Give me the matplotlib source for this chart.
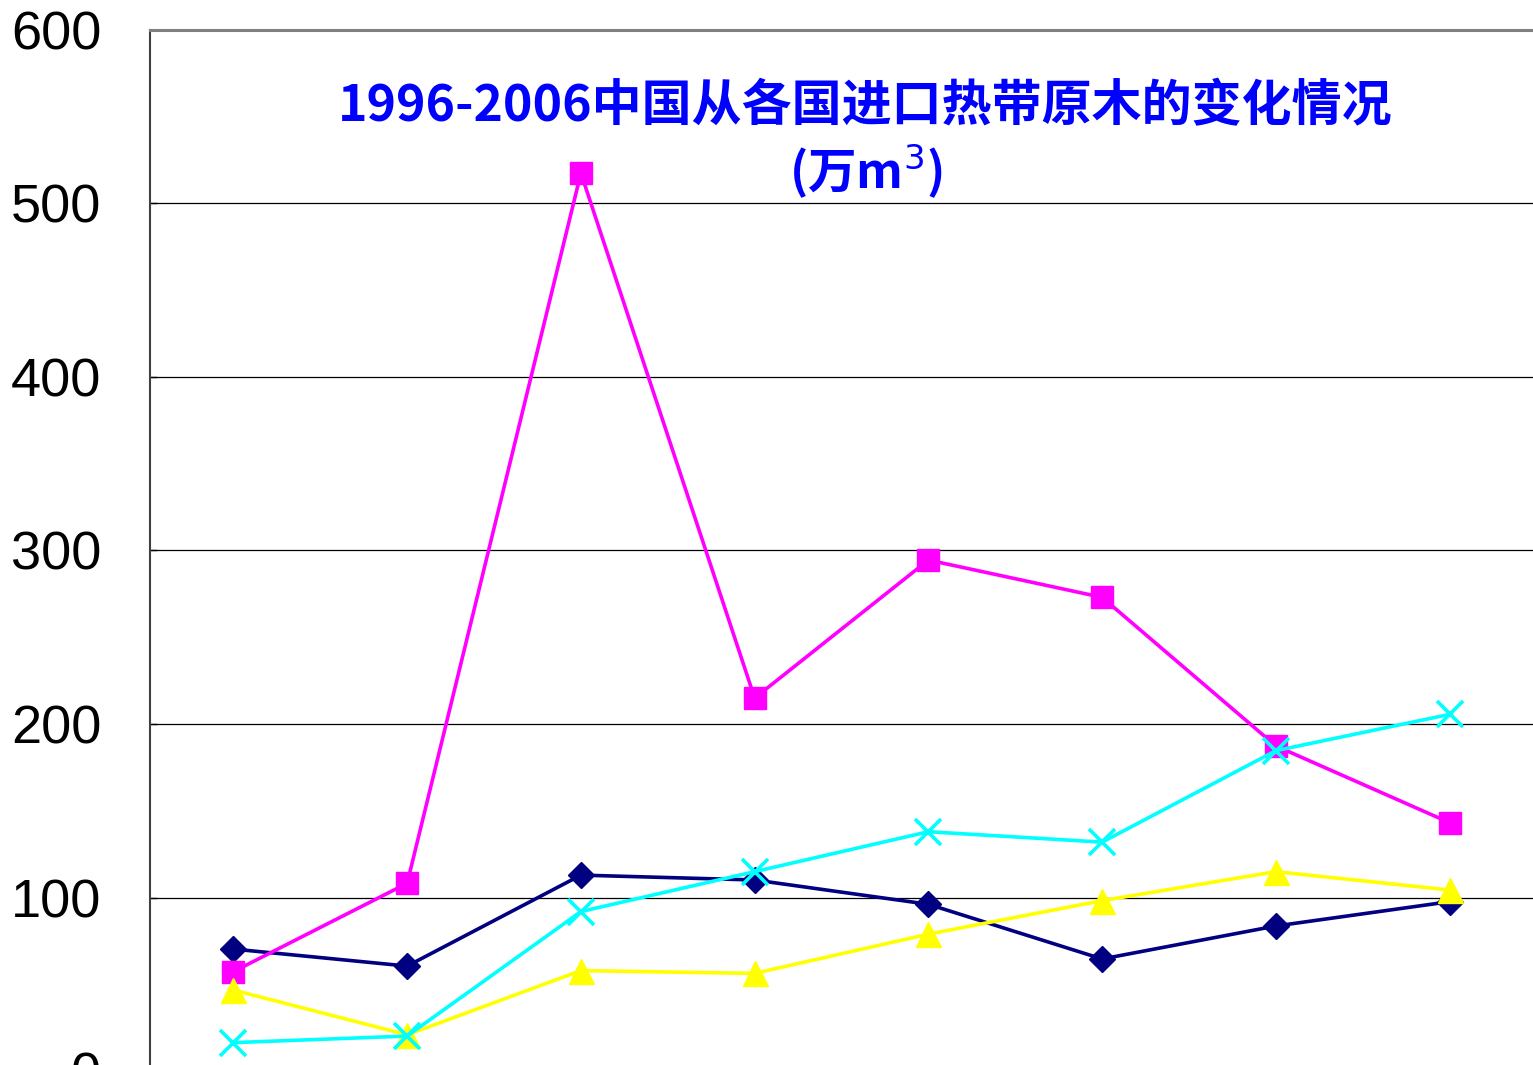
#!/usr/bin/env python3
"""
China tropical log imports by source country, line chart (万m3).
"""
import matplotlib
matplotlib.use("Agg")
import matplotlib.pyplot as plt

# data
years = ["1999", "2000", "2001", "2002", "2003", "2004", "2005", "2006"]

series_navy    = [70.4, 60.6, 113, 110.2, 96.2, 64.7, 83.7, 97.7]
series_magenta = [57.4, 108.3, 517.4, 215, 294.5, 273, 187.4, 143.2]
series_yellow  = [46.8, 21, 58, 56.4, 79, 98.3, 115, 104.4]
series_cyan    = [16.5, 20.3, 92, 115, 138, 132, 184.7, 205.6]

y_ticks = [0, 100, 200, 300, 400, 500, 600]

TITLE_COLOR = "#0000FF"
FIG_W, FIG_H, DPI = 15.33, 10.65, 100

plt.rcParams["font.family"] = ["Liberation Sans", "DejaVu Sans"]

fig = plt.figure(figsize=(FIG_W, FIG_H), dpi=DPI, facecolor="white")
# plot area runs past the bottom / right edge of the picture (cropped chart)
ax = fig.add_axes([150 / 1533, -0.0059, 1390 / 1533, 0.978])
ax.set_facecolor("white")

x = list(range(len(years)))
lw = 2.6
ax.plot(x, series_navy, color="#000080", lw=lw, marker="D", ms=13,
        label="series 1", zorder=3)
ax.plot(x, series_magenta, color="#FF00FF", lw=lw, marker="s", ms=16,
        label="series 2", zorder=3)
ax.plot(x, series_yellow, color="#FFFF00", lw=lw, marker="^", ms=18,
        label="series 3", zorder=3)
ax.plot(x, series_cyan, color="#00FFFF", lw=lw, marker="x", ms=19, mew=2.6,
        label="series 4", zorder=3)

ax.set_xlim(-0.48, 7.52)
ax.set_ylim(0, 600)
ax.set_xticks(x)
# category labels sit below the cropped edge of the picture
ax.set_xticklabels([])
ax.set_yticks(y_ticks)
ax.set_yticklabels([str(v) for v in y_ticks], fontsize=39)
ax.tick_params(axis="y", direction="in", length=5, width=1, pad=35,
               colors="black")
ax.tick_params(axis="x", length=0)

ax.grid(axis="y", color="black", lw=0.9, zorder=1)
ax.spines["left"].set_color("#404040")
ax.spines["left"].set_linewidth(1.5)
ax.spines["top"].set_color("#808080")
ax.spines["top"].set_linewidth(2.2)
ax.spines["right"].set_visible(False)
ax.spines["bottom"].set_visible(False)

cjk = ["Noto Sans CJK SC", "DejaVu Sans"]
fig.text(865 / 1533, 1 - 107 / 1065, "1996-2006中国从各国进口热带原木的变化情况",
         ha="center", va="center", fontsize=36, fontweight="bold",
         color=TITLE_COLOR, family=cjk)
fig.text(866 / 1533, 1 - 172 / 1065, "(万m$^3$)",
         ha="center", va="center", fontsize=35, fontweight="bold",
         color=TITLE_COLOR, family=cjk)

fig.savefig("out.png", dpi=DPI, facecolor="white")
